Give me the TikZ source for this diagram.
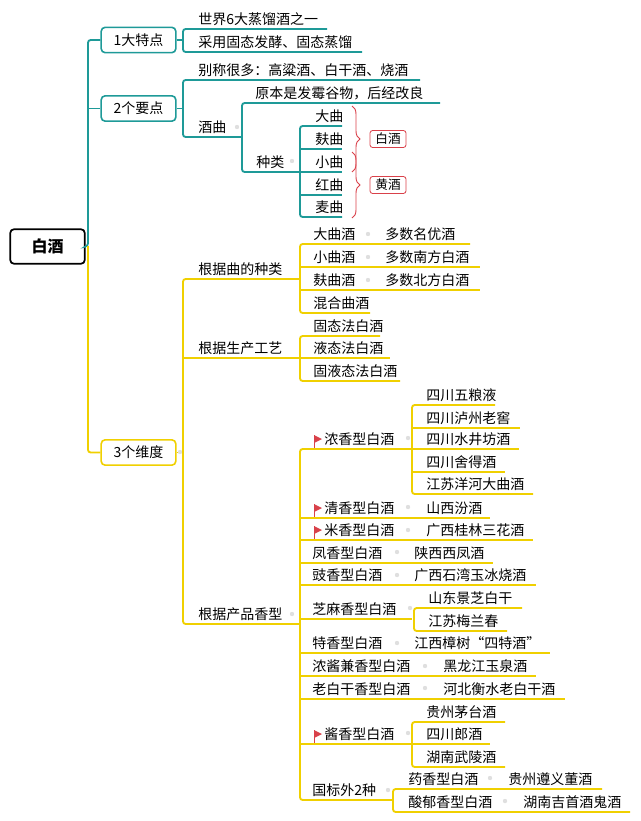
\documentclass[tikz,border=0pt]{standalone}
\usepackage{fontspec}
\setmainfont{Noto Sans CJK SC}
\usetikzlibrary{decorations.pathreplacing}
\definecolor{tl}{HTML}{1E9A98}
\definecolor{yl}{HTML}{F0D000}
\definecolor{rd}{HTML}{D9414A}
\newcommand\Tx[4]{\node[anchor=base west,inner sep=0,font=\fontsize{10.5}{12}\selectfont] (#1) at (#2,#3-4.5) {#4};}
\newcommand\Dt[2]{\fill[gray!25] (#1,#2) circle (2.2);}
\newcommand\Fl[2]{\draw[rd,line width=0.5pt] (#1,#2-14)--(#1,#2-1); \fill[rd] (#1,#2-14)--(#1+8,#2-10)--(#1,#2-6)--cycle;}
\begin{document}
\begin{tikzpicture}[x=0.75pt,y=-0.75pt,
  tln/.style={tl,line width=1.4pt,rounded corners=2pt},
  yln/.style={yl,line width=1.4pt,rounded corners=2pt},
  boxt/.style={draw=tl,line width=1.2pt,rounded corners=3pt,minimum width=56pt,minimum height=19pt,inner sep=0,font=\fontsize{10.5}{12}\selectfont},
  boxy/.style={boxt,draw=yl}]
\useasboundingbox (0,0) rectangle (640,821);
% root
\node[draw=black,line width=1.3pt,rounded corners=3pt,minimum width=56pt,minimum height=26pt,font=\fontsize{12}{14}\selectfont\bfseries] (root) at (47.5,246.5) {白酒};
\node[boxt] (k1) at (138.5,40) {1大特点};
\node[boxt] (k2) at (138.5,108.5) {2个要点};
\node[boxy] (k3) at (138.5,452.5) {3个维度};
% trunks
\draw[tln] (root.east) -- (88,246) -- (88,40) -- (k1.west);
\draw[tln] (88,108.5) -- (k2.west);
\draw[yln] (88,246) -- (88,452.5) -- (k3.west);
% 1
\draw[tln] (k1.east) -- (183,40);
\draw[tln] (327,29) -- (183,29) -- (183,52) -- (362,52);
\Tx{a1}{198}{29}{世界6大蒸馏酒之一}
\Tx{a2}{198}{52}{采用固态发酵、固态蒸馏}
% 2
\draw[tln] (k2.east) -- (183,108.5);
\draw[tln] (420,80) -- (183,80) -- (183,137) -- (242,137);
\Tx{b1}{198}{80}{别称很多：高粱酒、白干酒、烧酒}
\Tx{b2}{198}{137}{酒曲}\Dt{237}{127}
\draw[tln] (440,103) -- (242,103) -- (242,172) -- (300,172);
\Tx{b3}{255}{103}{原本是发霉谷物，后经改良}
\Tx{b4}{256}{172}{种类}\Dt{292}{161}
\draw[tln] (342,126) -- (300,126) -- (300,217) -- (342,217);
\foreach \y in {149,172,195} \draw[tln] (300,\y) -- (342,\y);
\Tx{c1}{315}{126}{大曲}
\Tx{c2}{315}{149}{麸曲}
\Tx{c3}{315}{172}{小曲}
\Tx{c4}{315}{195}{红曲}
\Tx{c5}{315}{217}{麦曲}
\draw[rd,line width=0.7pt,decorate,decoration={brace,amplitude=6pt}] (352,106) -- (352,172);
\draw[rd,line width=0.7pt,decorate,decoration={brace,amplitude=6pt}] (352,152) -- (352,218);
\node[draw=rd,rounded corners=2pt,line width=0.6pt,inner xsep=4pt,inner ysep=2pt,font=\fontsize{9.5}{11}\selectfont] (w1) at (388,139) {白酒};
\node[draw=rd,rounded corners=2pt,line width=0.6pt,inner xsep=4pt,inner ysep=2pt,font=\fontsize{9.5}{11}\selectfont] (w2) at (388,185) {黄酒};
% 3
\draw[yln] (k3.east) -- (183,452.5);\Dt{180}{452}
\draw[yln] (300,279) -- (183,279) -- (183,624) -- (300,624);
\draw[yln] (183,358) -- (300,358);
\Tx{d1}{198}{279}{根据曲的种类}
\Tx{d2}{198}{358}{根据生产工艺}
\Tx{d3}{198}{624}{根据产品香型}\Dt{292}{614}
% qu
\draw[yln] (470,244) -- (300,244) -- (300,313) -- (370,313);
\draw[yln] (300,267) -- (480,267);
\draw[yln] (300,290) -- (480,290);
\Tx{e1}{313}{244}{大曲酒}\Dt{368}{234}\Tx{e1b}{385}{244}{多数名优酒}
\Tx{e2}{313}{267}{小曲酒}\Dt{368}{257}\Tx{e2b}{385}{267}{多数南方白酒}
\Tx{e3}{313}{290}{麸曲酒}\Dt{368}{280}\Tx{e3b}{385}{290}{多数北方白酒}
\Tx{e4}{313}{313}{混合曲酒}
% gongyi
\draw[yln] (380,336) -- (300,336) -- (300,381) -- (400,381);
\draw[yln] (300,358) -- (390,358);
\Tx{f1}{313}{336}{固态法白酒}
\Tx{f2}{313}{358}{液态法白酒}
\Tx{f3}{313}{381}{固液态法白酒}
% xiangxing
\draw[yln] (412,449) -- (300,449) -- (300,800) -- (393,800);
\foreach \y/\e in {518/490,540/533,563/493,585/536,619/412,653/550,676/536,699/565,744/412} \draw[yln] (300,\y) -- (\e,\y);
% nong
\Fl{314}{449}\Tx{g0}{324}{449}{浓香型白酒}\Dt{408}{438}
\draw[yln] (495,405) -- (412,405) -- (412,494) -- (533,494);
\foreach \y/\e in {428/520,449/519,472/505} \draw[yln] (412,\y) -- (\e,\y);
\Tx{g1}{426}{405}{四川五粮液}
\Tx{g2}{426}{428}{四川泸州老窖}
\Tx{g3}{426}{449}{四川水井坊酒}
\Tx{g4}{426}{472}{四川舍得酒}
\Tx{g5}{426}{494}{江苏洋河大曲酒}
\Fl{314}{518}\Tx{h1}{324}{518}{清香型白酒}\Dt{408}{507}\Tx{h1b}{426}{518}{山西汾酒}
\Fl{314}{540}\Tx{h2}{324}{540}{米香型白酒}\Dt{408}{530}\Tx{h2b}{426}{540}{广西桂林三花酒}
\Tx{h3}{312}{563}{凤香型白酒}\Dt{397}{552}\Tx{h3b}{414}{563}{陕西西凤酒}
\Tx{h4}{312}{585}{豉香型白酒}\Dt{397}{575}\Tx{h4b}{414}{585}{广西石湾玉冰烧酒}
\Tx{h5}{312}{619}{芝麻香型白酒}\Dt{410}{608}
\draw[yln] (522,608) -- (414,608) -- (414,631) -- (507,631);
\Tx{h5a}{428}{608}{山东景芝白干}
\Tx{h5b}{428}{631}{江苏梅兰春}
\Tx{h6}{312}{653}{特香型白酒}\Dt{397}{643}\Tx{h6b}{414}{653}{江西樟树“四特酒”}
\Tx{h7}{312}{676}{浓酱兼香型白酒}\Dt{425}{666}\Tx{h7b}{443}{676}{黑龙江玉泉酒}
\Tx{h8}{312}{699}{老白干香型白酒}\Dt{425}{688}\Tx{h8b}{443}{699}{河北衡水老白干酒}
\Fl{314}{744}\Tx{j0}{324}{744}{酱香型白酒}\Dt{408}{733}
\draw[yln] (505,722) -- (412,722) -- (412,767) -- (505,767);
\draw[yln] (412,744) -- (490,744);
\Tx{j1}{426}{722}{贵州茅台酒}
\Tx{j2}{426}{744}{四川郎酒}
\Tx{j3}{426}{767}{湖南武陵酒}
\Tx{k0}{312}{800}{国标外2种}\Dt{388}{790}
\draw[yln] (602,789) -- (393,789) -- (393,812) -- (630,812);
\Tx{k1t}{408}{789}{药香型白酒}\Dt{490}{778}\Tx{k1b}{508}{789}{贵州遵义董酒}
\Tx{k2t}{408}{812}{酸郁香型白酒}\Dt{505}{801}\Tx{k2b}{523}{812}{湖南吉首酒鬼酒}
\end{tikzpicture}
\end{document}
